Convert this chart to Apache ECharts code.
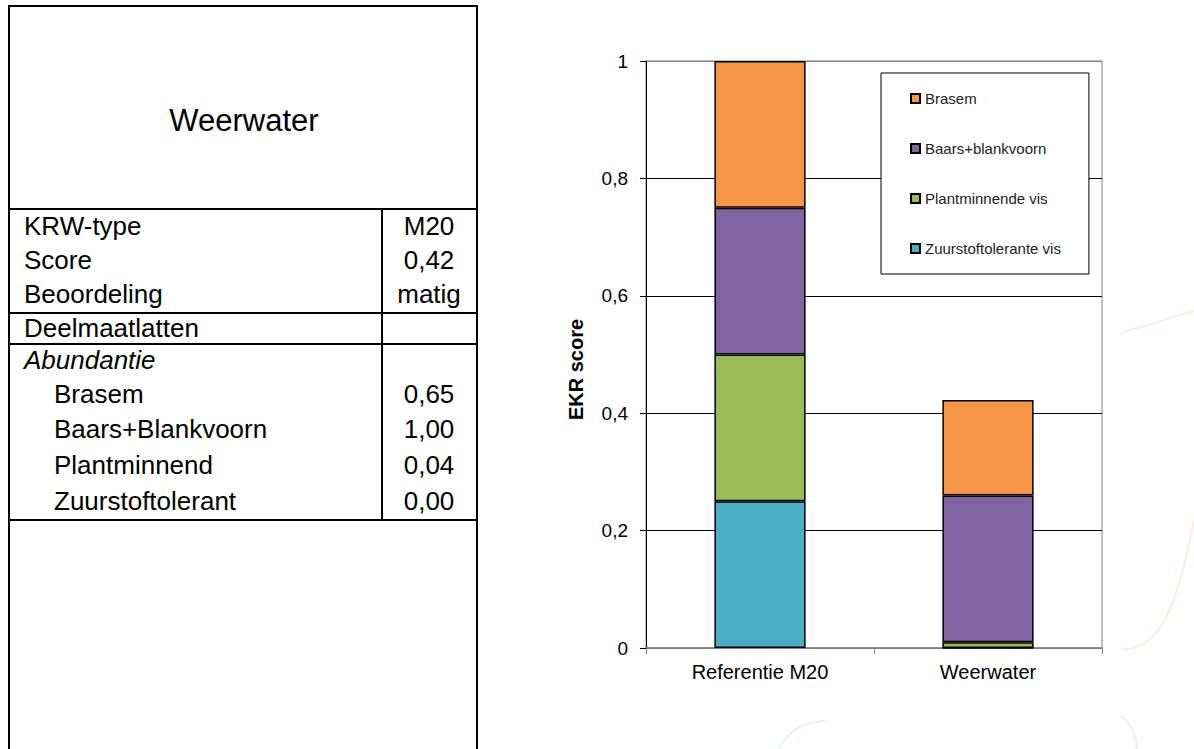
<!DOCTYPE html>
<html>
<head>
<meta charset="utf-8">
<style>
  html, body { margin: 0; padding: 0; background: #fff; }
  #chart { width: 1194px; height: 749px; }
</style>
<script src="https://cdn.jsdelivr.net/npm/echarts@6/dist/echarts.min.js"></script>
</head>
<body>
<div id="chart"></div>
<script>
// ---- data ----
var categories = ['Referentie M20', 'Weerwater'];
var seriesNames = ['Zuurstoftolerante vis', 'Plantminnende vis', 'Baars+blankvoorn', 'Brasem'];
var zuurstof = [0.25, 0];
var plant = [0.25, 0.01];
var baars = [0.25, 0.25];
var brasem = [0.25, 0.1625];
var legendOrder = ['Brasem', 'Baars+blankvoorn', 'Plantminnende vis', 'Zuurstoftolerante vis'];
var yTicks = [0, 0.2, 0.4, 0.6, 0.8, 1];

var tableTitle = 'Weerwater';
var tableLabels = ['KRW-type', 'Score', 'Beoordeling', 'Deelmaatlatten', 'Abundantie', 'Brasem', 'Baars+Blankvoorn', 'Plantminnend', 'Zuurstoftolerant'];
var tableValues = ['M20', '0,42', 'matig', '', '', '0,65', '1,00', '0,04', '0,00'];

var colors = ['#4BACC6', '#9BBB59', '#8064A2', '#F79646'];
var seriesData = [zuurstof, plant, baars, brasem];

// ---- table graphics ----
var FONT = "'Liberation Sans', Arial, sans-serif";
var graphics = [];
function hline(y, x1, x2) {
  graphics.push({ type: 'line', silent: true, z: 10, shape: { x1: x1, y1: y, x2: x2, y2: y }, style: { stroke: '#000', lineWidth: 2 } });
}
function vline(x, y1, y2) {
  graphics.push({ type: 'line', silent: true, z: 10, shape: { x1: x, y1: y1, x2: x, y2: y2 }, style: { stroke: '#000', lineWidth: 2 } });
}
vline(9, 5, 749);
vline(477, 5, 749);
hline(6, 8, 478);
hline(209, 8, 478);
hline(313, 8, 478);
hline(344, 8, 478);
hline(520, 8, 478);
vline(382, 209, 520);

graphics.push({ type: 'text', silent: true, z: 10, x: 244, y: 120,
  style: { text: tableTitle, font: '31px ' + FONT, fill: '#000', textAlign: 'center', textVerticalAlign: 'middle' } });

var rowY = [226, 260, 294, 328, 360, 394, 429, 465, 501];
var indent = [false, false, false, false, false, true, true, true, true];
tableLabels.forEach(function (lab, i) {
  graphics.push({ type: 'text', silent: true, z: 10, x: indent[i] ? 54 : 24, y: rowY[i],
    style: { text: lab, font: (i === 4 ? 'italic ' : '') + '26px ' + FONT, fill: '#000', textAlign: 'left', textVerticalAlign: 'middle' } });
  if (tableValues[i]) {
    graphics.push({ type: 'text', silent: true, z: 10, x: 429, y: rowY[i],
      style: { text: tableValues[i], font: '26px ' + FONT, fill: '#000', textAlign: 'center', textVerticalAlign: 'middle' } });
  }
});

// faint background decorations
graphics.push({ type: 'line', silent: true, z: -10, shape: { x1: 1121, y1: 333, x2: 1194, y2: 311 }, style: { stroke: '#fcebe0', lineWidth: 2 } });
graphics.push({ type: 'bezierCurve', silent: true, z: -10, shape: { x1: 1121, y1: 650, cpx1: 1160, cpy1: 648, cpx2: 1176, cpy2: 612, x2: 1194, y2: 520 }, style: { stroke: '#fcebe0', lineWidth: 2, fill: null } });
graphics.push({ type: 'bezierCurve', silent: true, z: -10, shape: { x1: 779, y1: 749, cpx1: 786, cpy1: 735, cpx2: 800, cpy2: 722, x2: 825, y2: 721 }, style: { stroke: '#e6f0f7', lineWidth: 2, fill: null } });
graphics.push({ type: 'bezierCurve', silent: true, z: -10, shape: { x1: 1121, y1: 716, cpx1: 1132, cpy1: 724, cpx2: 1136, cpy2: 738, x2: 1137, y2: 749 }, style: { stroke: '#e6f0f7', lineWidth: 2, fill: null } });

// ---- chart ----
var chart = echarts.init(document.getElementById('chart'), null, { renderer: 'svg' });

var series = seriesNames.map(function (name, i) {
  return {
    name: name,
    type: 'bar',
    stack: 'ekr',
    barWidth: '40%',
    data: seriesData[i],
    itemStyle: { color: colors[i], borderColor: '#000', borderWidth: 1.5 },
    emphasis: { disabled: true },
    animation: false
  };
});

function fmt(v) {
  return String(parseFloat(v.toFixed(2))).replace('.', ',');
}

chart.setOption({
  animation: false,
  textStyle: { fontFamily: FONT },
  graphic: graphics,
  grid: { left: 646, right: 92, top: 61, bottom: 101, show: true, borderColor: '#808080', borderWidth: 1, backgroundColor: 'transparent' },
  legend: {
    orient: 'vertical',
    left: 881,
    top: 73,
    data: legendOrder,
    icon: 'rect',
    itemWidth: 9,
    itemHeight: 9,
    itemGap: 35,
    padding: [18, 28, 18, 29],
    borderColor: '#000',
    borderWidth: 1,
    backgroundColor: '#fff',
    selectedMode: false,
    textStyle: { fontSize: 15, lineHeight: 15, color: '#222', fontFamily: FONT }
  },
  xAxis: {
    type: 'category',
    data: categories,
    axisLine: { lineStyle: { color: '#808080', width: 1.5 } },
    axisTick: { show: true, length: 6, lineStyle: { color: '#808080' } },
    axisLabel: { fontSize: 20, color: '#000', margin: 14, fontFamily: FONT },
    splitLine: { show: false }
  },
  yAxis: {
    type: 'value',
    min: yTicks[0],
    max: yTicks[yTicks.length - 1],
    interval: 0.2,
    name: 'EKR score',
    nameLocation: 'middle',
    nameRotate: 90,
    nameGap: 60,
    nameTextStyle: { fontSize: 20, fontWeight: 'bold', color: '#000', padding: [0, 30, 0, 0], fontFamily: FONT },
    axisLine: { show: true, lineStyle: { color: '#000', width: 1 } },
    axisTick: { show: true, length: 6, lineStyle: { color: '#000' } },
    axisLabel: { fontSize: 19, color: '#000', margin: 18, formatter: fmt, fontFamily: FONT },
    splitLine: { show: true, lineStyle: { color: ['#808080', '#000', '#000', '#000', '#000', '#808080'], width: 1 } }
  },
  series: series
});
</script>
</body>
</html>
